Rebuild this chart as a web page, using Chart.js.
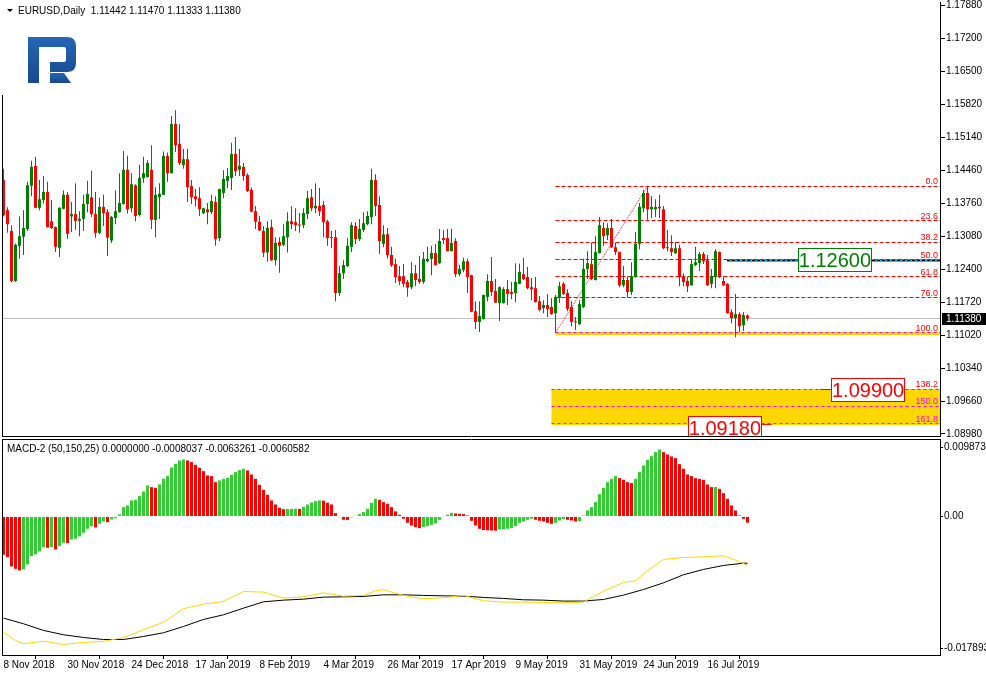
<!DOCTYPE html>
<html>
<head>
<meta charset="utf-8">
<title>EURUSD Daily</title>
<script src="https://cdn.jsdelivr.net/npm/chart.js@4.4.1/dist/chart.umd.min.js"></script>
<style>
  html, body { margin: 0; padding: 0; background: #ffffff; }
  body { position: relative; width: 986px; height: 676px; overflow: hidden; font-family: 'Liberation Sans', Arial, sans-serif; }
  canvas { position: absolute; left: 0; }
  #priceChart { top: 0; z-index: 2; }
  #macdChart { top: 438px; z-index: 1; }
  #logo { position: absolute; left: 0; top: 0; z-index: 3; }
  .caption { position: absolute; z-index: 4; font-size: 10px; line-height: 12px; color: #000; white-space: pre; }
  .arrow { display: inline-block; width: 0; height: 0; border-left: 3px solid transparent; border-right: 3px solid transparent; border-top: 3px solid #000; margin-right: 5px; vertical-align: 2px; }
</style>
</head>
<body>
<svg id="logo" width="90" height="90" viewBox="0 0 90 90">
  <defs>
    <linearGradient id="logoFill" x1="0" y1="0" x2="0" y2="1">
      <stop offset="0" stop-color="#2466b6"/>
      <stop offset="1" stop-color="#17498c"/>
    </linearGradient>
  </defs>
  <path fill="url(#logoFill)" d="M28 37 H67 Q76 37 76 46 V63 Q76 72 67 72 H50 V62 H64 Q66 62 66 60 V49 Q66 47 64 47 H39 V83 H28 Z"/>
  <path fill="url(#logoFill)" d="M50 73 H64 L71 83 H50 Z"/>
</svg>
<div class="caption" style="left:7px; top:5px;"><span class="arrow"></span>EURUSD,Daily  1.11442 1.11470 1.11333 1.11380</div>
<div class="caption" style="left:7px; top:443px;">MACD-2 (50,150,25) 0.0000000 -0.0008037 -0.0063261 -0.0060582</div>
<canvas id="priceChart" width="986" height="446"></canvas>
<canvas id="macdChart" width="986" height="238"></canvas>
<script>
// Daily candles, 8 Nov 2018 .. 30 Jul 2019 (one entry per trading day)
const opens = [
  1.1426, 1.1363, 1.1320, 1.1216, 1.1289, 1.1308, 1.1324, 1.1414, 1.1455, 1.1368,
  1.1384, 1.1401, 1.1340, 1.1328, 1.1285, 1.1366, 1.1395, 1.1350, 1.1355, 1.1341,
  1.1345, 1.1376, 1.1390, 1.1355, 1.1316, 1.1370, 1.1359, 1.1300, 1.1347, 1.1359,
  1.1376, 1.1447, 1.1367, 1.1415, 1.1353, 1.1430, 1.1432, 1.1447, 1.1343, 1.1390,
  1.1395, 1.1476, 1.1440, 1.1542, 1.1501, 1.1457, 1.1469, 1.1413, 1.1392, 1.1388,
  1.1357, 1.1365, 1.1359, 1.1380, 1.1305, 1.1399, 1.1424, 1.1430, 1.1480, 1.1447,
  1.1453, 1.1436, 1.1405, 1.1361, 1.1339, 1.1320, 1.1275, 1.1328, 1.1259, 1.1297,
  1.1291, 1.1307, 1.1340, 1.1338, 1.1332, 1.1332, 1.1355, 1.1390, 1.1367, 1.1372,
  1.1374, 1.1340, 1.1307, 1.1307, 1.1191, 1.1232, 1.1247, 1.1287, 1.1330, 1.1303,
  1.1322, 1.1334, 1.1349, 1.1426, 1.1374, 1.1293, 1.1313, 1.1270, 1.1251, 1.1226,
  1.1226, 1.1214, 1.1203, 1.1232, 1.1220, 1.1214, 1.1257, 1.1262, 1.1274, 1.1253,
  1.1305, 1.1305, 1.1278, 1.1299, 1.1230, 1.1239, 1.1257, 1.1228, 1.1153, 1.1131,
  1.1137, 1.1183, 1.1216, 1.1195, 1.1170, 1.1170, 1.1199, 1.1193, 1.1191, 1.1210,
  1.1230, 1.1224, 1.1203, 1.1201, 1.1174, 1.1160, 1.1166, 1.1162, 1.1149, 1.1181,
  1.1210, 1.1191, 1.1162, 1.1131, 1.1126, 1.1162, 1.1241, 1.1251, 1.1218, 1.1274,
  1.1326, 1.1311, 1.1326, 1.1286, 1.1276, 1.1207, 1.1218, 1.1193, 1.1224, 1.1293,
  1.1367, 1.1399, 1.1365, 1.1365, 1.1370, 1.1365, 1.1284, 1.1284, 1.1274, 1.1284,
  1.1226, 1.1216, 1.1207, 1.1249, 1.1253, 1.1272, 1.1259, 1.1210, 1.1224, 1.1276,
  1.1216, 1.1210, 1.1151, 1.1139, 1.1147, 1.1124, 1.11442
];
const highs = [
  1.1449, 1.1369, 1.1332, 1.1294, 1.1350, 1.1363, 1.1422, 1.1466, 1.1474, 1.1426,
  1.1434, 1.1422, 1.1384, 1.1329, 1.1369, 1.1404, 1.1401, 1.1380, 1.1419, 1.1361,
  1.1395, 1.1424, 1.1445, 1.1401, 1.1389, 1.1395, 1.1365, 1.1351, 1.1404, 1.1440,
  1.1486, 1.1476, 1.1440, 1.1417, 1.1457, 1.1474, 1.1467, 1.1498, 1.1411, 1.1419,
  1.1485, 1.1483, 1.1559, 1.1571, 1.1542, 1.1490, 1.1490, 1.1426, 1.1407, 1.1411,
  1.1368, 1.1378, 1.1395, 1.1392, 1.1408, 1.1446, 1.1451, 1.1503, 1.1515, 1.1490,
  1.1461, 1.1440, 1.1410, 1.1372, 1.1351, 1.1330, 1.1340, 1.1343, 1.1307, 1.1307,
  1.1334, 1.1359, 1.1372, 1.1367, 1.1357, 1.1367, 1.1403, 1.1407, 1.1419, 1.1409,
  1.1382, 1.1343, 1.1320, 1.1322, 1.1247, 1.1259, 1.1305, 1.1338, 1.1338, 1.1345,
  1.1359, 1.1361, 1.1449, 1.1438, 1.1392, 1.1332, 1.1326, 1.1287, 1.1262, 1.1247,
  1.1251, 1.1218, 1.1255, 1.1249, 1.1268, 1.1276, 1.1287, 1.1289, 1.1293, 1.1324,
  1.1322, 1.1324, 1.1324, 1.1305, 1.1249, 1.1264, 1.1262, 1.1229, 1.1174, 1.1174,
  1.1188, 1.1230, 1.1266, 1.1220, 1.1205, 1.1203, 1.1218, 1.1214, 1.1253, 1.1252,
  1.1264, 1.1245, 1.1222, 1.1224, 1.1185, 1.1176, 1.1189, 1.1180, 1.1187, 1.1214,
  1.1214, 1.1199, 1.1174, 1.1141, 1.1176, 1.1262, 1.1278, 1.1295, 1.1309, 1.1349,
  1.1338, 1.1336, 1.1345, 1.1295, 1.1277, 1.1247, 1.1224, 1.1255, 1.1318, 1.1378,
  1.1405, 1.1413, 1.1392, 1.1386, 1.1395, 1.1372, 1.1322, 1.1311, 1.1297, 1.1291,
  1.1232, 1.1224, 1.1262, 1.1287, 1.1276, 1.1276, 1.1270, 1.1241, 1.1282, 1.1277,
  1.1226, 1.1211, 1.1157, 1.1189, 1.1151, 1.1151, 1.11470
];
const lows = [
  1.1350, 1.1316, 1.1214, 1.1214, 1.1262, 1.1270, 1.1320, 1.1392, 1.1367, 1.1363,
  1.1377, 1.1327, 1.1324, 1.1276, 1.1266, 1.1365, 1.1303, 1.1318, 1.1322, 1.1309,
  1.1320, 1.1359, 1.1349, 1.1306, 1.1313, 1.1330, 1.1268, 1.1295, 1.1334, 1.1358,
  1.1375, 1.1356, 1.1359, 1.1340, 1.1350, 1.1420, 1.1431, 1.1324, 1.1307, 1.1345,
  1.1394, 1.1422, 1.1439, 1.1484, 1.1457, 1.1449, 1.1380, 1.1376, 1.1370, 1.1351,
  1.1355, 1.1334, 1.1355, 1.1289, 1.1299, 1.1388, 1.1409, 1.1405, 1.1434, 1.1434,
  1.1424, 1.1401, 1.1359, 1.1324, 1.1320, 1.1266, 1.1256, 1.1258, 1.1248, 1.1233,
  1.1288, 1.1275, 1.1324, 1.1320, 1.1316, 1.1326, 1.1345, 1.1361, 1.1357, 1.1351,
  1.1307, 1.1289, 1.1284, 1.1174, 1.1185, 1.1220, 1.1245, 1.1276, 1.1293, 1.1299,
  1.1318, 1.1332, 1.1334, 1.1351, 1.1272, 1.1286, 1.1262, 1.1245, 1.1212, 1.1207,
  1.1203, 1.1183, 1.1199, 1.1205, 1.1210, 1.1210, 1.1255, 1.1228, 1.1248, 1.1251,
  1.1293, 1.1277, 1.1277, 1.1224, 1.1226, 1.1234, 1.1191, 1.1151, 1.1116, 1.1110,
  1.1136, 1.1174, 1.1185, 1.1170, 1.1133, 1.1169, 1.1166, 1.1178, 1.1172, 1.1209,
  1.1218, 1.1199, 1.1176, 1.1171, 1.1153, 1.1149, 1.1141, 1.1146, 1.1108, 1.1170,
  1.1187, 1.1153, 1.1122, 1.1114, 1.1125, 1.1160, 1.1220, 1.1218, 1.1217, 1.1273,
  1.1289, 1.1301, 1.1284, 1.1270, 1.1203, 1.1203, 1.1181, 1.1187, 1.1223, 1.1282,
  1.1359, 1.1343, 1.1347, 1.1349, 1.1347, 1.1282, 1.1278, 1.1268, 1.1272, 1.1205,
  1.1205, 1.1193, 1.1206, 1.1247, 1.1237, 1.1251, 1.1206, 1.1201, 1.1201, 1.1222,
  1.1206, 1.1148, 1.1128, 1.1099, 1.1110, 1.1112, 1.11333
];
const closes = [
  1.1353, 1.1334, 1.1216, 1.1291, 1.1309, 1.1326, 1.1415, 1.1453, 1.1368, 1.1386,
  1.1401, 1.1328, 1.1326, 1.1287, 1.1368, 1.1395, 1.1314, 1.1355, 1.1341, 1.1345,
  1.1376, 1.1397, 1.1355, 1.1316, 1.1370, 1.1357, 1.1306, 1.1349, 1.1361, 1.1378,
  1.1447, 1.1365, 1.1417, 1.1351, 1.1430, 1.1440, 1.1461, 1.1343, 1.1395, 1.1397,
  1.1476, 1.1440, 1.1542, 1.1498, 1.1461, 1.1469, 1.1411, 1.1390, 1.1386, 1.1365,
  1.1367, 1.1359, 1.1382, 1.1303, 1.1407, 1.1428, 1.1434, 1.1480, 1.1444, 1.1455,
  1.1434, 1.1403, 1.1360, 1.1339, 1.1321, 1.1275, 1.1326, 1.1259, 1.1295, 1.1289,
  1.1309, 1.1340, 1.1334, 1.1332, 1.1331, 1.1357, 1.1388, 1.1367, 1.1372, 1.1361,
  1.1338, 1.1305, 1.1305, 1.1191, 1.1232, 1.1249, 1.1289, 1.1332, 1.1303, 1.1324,
  1.1336, 1.1351, 1.1426, 1.1372, 1.1299, 1.1313, 1.1270, 1.1249, 1.1224, 1.1216,
  1.1210, 1.1202, 1.1232, 1.1218, 1.1214, 1.1262, 1.1262, 1.1274, 1.1249, 1.1299,
  1.1301, 1.1278, 1.1295, 1.1230, 1.1241, 1.1257, 1.1224, 1.1152, 1.1131, 1.1143,
  1.1187, 1.1216, 1.1193, 1.1171, 1.1203, 1.1199, 1.1189, 1.1189, 1.1214, 1.1235,
  1.1220, 1.1201, 1.1199, 1.1172, 1.1156, 1.1166, 1.1158, 1.1147, 1.1183, 1.1205,
  1.1189, 1.1158, 1.1131, 1.1130, 1.1168, 1.1241, 1.1253, 1.1220, 1.1276, 1.1332,
  1.1309, 1.1326, 1.1286, 1.1276, 1.1207, 1.1218, 1.1193, 1.1226, 1.1293, 1.1370,
  1.1399, 1.1365, 1.1370, 1.1370, 1.1367, 1.1284, 1.1286, 1.1276, 1.1284, 1.1224,
  1.1214, 1.1205, 1.1251, 1.1255, 1.1272, 1.1257, 1.1207, 1.1226, 1.1278, 1.1224,
  1.1207, 1.1149, 1.1139, 1.1147, 1.1122, 1.1145, 1.11380
];

// MACD-2 histogram, one value per candle
const macdHist = [
  -0.00495, -0.00525, -0.00646, -0.00676, -0.00697, -0.00684, -0.00620, -0.00512, -0.00491, -0.00452,
  -0.00396, -0.00405, -0.00396, -0.00426, -0.00383, -0.00340, -0.00344, -0.00297, -0.00288, -0.00258,
  -0.00211, -0.00159, -0.00125, -0.00142, -0.00095, -0.00065, -0.00073, -0.00039, -0.00022, 0.00026,
  0.00121, 0.00142, 0.00207, 0.00215, 0.00263, 0.00323, 0.00400, 0.00379, 0.00370, 0.00413,
  0.00487, 0.00521, 0.00633, 0.00680, 0.00723, 0.00736, 0.00723, 0.00702, 0.00667, 0.00629,
  0.00585, 0.00530, 0.00521, 0.00443, 0.00465, 0.00486, 0.00499, 0.00538, 0.00573, 0.00598,
  0.00616, 0.00594, 0.00542, 0.00486, 0.00409, 0.00344, 0.00280, 0.00207, 0.00155, 0.00112,
  0.00094, 0.00096, 0.00098, 0.00100, 0.00097, 0.00125, 0.00155, 0.00181, 0.00198, 0.00207,
  0.00204, 0.00177, 0.00155, 0.00043, -0.00009, -0.00043, -0.00045, -0.00013, 0.00009, 0.00030,
  0.00056, 0.00099, 0.00177, 0.00228, 0.00215, 0.00185, 0.00164, 0.00121, 0.00065, 0.00022,
  -0.00030, -0.00082, -0.00116, -0.00138, -0.00151, -0.00138, -0.00125, -0.00108, -0.00090, -0.00043,
  0.00004, 0.00022, 0.00047, 0.00039, 0.00034, 0.00030, 0.00013, -0.00056, -0.00116, -0.00159,
  -0.00175, -0.00179, -0.00181, -0.00183, -0.00168, -0.00166, -0.00159, -0.00151, -0.00125, -0.00082,
  -0.00065, -0.00043, -0.00030, -0.00043, -0.00056, -0.00065, -0.00082, -0.00095, -0.00082, -0.00052,
  -0.00034, -0.00043, -0.00052, -0.00065, -0.00060, 0.00013, 0.00077, 0.00121, 0.00185, 0.00288,
  0.00370, 0.00443, 0.00486, 0.00521, 0.00495, 0.00474, 0.00443, 0.00431, 0.00486, 0.00573,
  0.00659, 0.00732, 0.00779, 0.00831, 0.00865, 0.00831, 0.00801, 0.00775, 0.00753, 0.00676,
  0.00616, 0.00542, 0.00521, 0.00495, 0.00486, 0.00474, 0.00413, 0.00379, 0.00381, 0.00357,
  0.00301, 0.00228, 0.00142, 0.00077, 0.00013, -0.00030, -0.00080
];

// MACD-2 lines, read at the candles listed in blackBars / yellowBars
const blackBars = [0, 5, 10, 15, 20, 25, 30, 35, 40, 45, 50, 55, 60, 65, 70, 75, 80, 85, 90, 95,
  100, 105, 110, 115, 120, 125, 130, 135, 140, 145, 150, 155, 160, 165, 170, 175, 180, 185, 186];
const blackLine = [
  -0.01313, -0.01386, -0.01472, -0.01528, -0.01563, -0.01589, -0.01589, -0.01550, -0.01502, -0.01421,
  -0.01330, -0.01270, -0.01184, -0.01102, -0.01081, -0.01068, -0.01042, -0.01038, -0.01033, -0.01012,
  -0.01012, -0.01020, -0.01025, -0.01029, -0.01046, -0.01059, -0.01076, -0.01081, -0.01093, -0.01093,
  -0.01072, -0.01016, -0.00943, -0.00857, -0.00753, -0.00684, -0.00633, -0.00603, -0.00606
];
const yellowBars = [0, 3, 5, 10, 15, 20, 25, 30, 35, 40, 45, 50, 55, 60, 65, 70, 75, 80, 85, 90, 93, 95,
  100, 105, 110, 115, 120, 125, 130, 135, 140, 145, 150, 155, 158, 160, 165, 170, 175, 180, 183, 186];
const yellowLine = [
  -0.01494, -0.01601, -0.01644, -0.01610, -0.01653, -0.01627, -0.01614, -0.01563, -0.01464, -0.01365,
  -0.01192, -0.01132, -0.01098, -0.00969, -0.00977, -0.01055, -0.01038, -0.00986, -0.01029, -0.01020,
  -0.00960, -0.00947, -0.01020, -0.01063, -0.01050, -0.01020, -0.01089, -0.01106, -0.01106, -0.01111,
  -0.01115, -0.01106, -0.00964, -0.00852, -0.00831, -0.00740, -0.00555, -0.00530, -0.00521, -0.00508,
  -0.00564, -0.00633
];

// Axis labels
const priceTickLabels = ['1.17880', '1.17200', '1.16500', '1.15820', '1.15140', '1.14460', '1.13760',
  '1.13080', '1.12400', '1.11720', '1.11020', '1.10340', '1.09660', '1.08980'];
const macdTickLabels = ['0.0098736', '0.00', '-0.017893'];
const dateLabels = ['8 Nov 2018', '30 Nov 2018', '24 Dec 2018', '17 Jan 2019', '8 Feb 2019', '4 Mar 2019',
  '26 Mar 2019', '17 Apr 2019', '9 May 2019', '31 May 2019', '24 Jun 2019', '16 Jul 2019'];
const DATE_STEP = 16; // one date label every 16 candles

// Fibonacci grid (from the 23 May low to the 25 Jun high) and price targets
const fibLowBar = 138;
const fibHighBar = 161;
const fibLevels = [0, 23.6, 38.2, 50, 61.8, 76, 100, 138.2, 150, 161.8];
const fibLabels = ['0.0', '23.6', '38.2', '50.0', '61.8', '76.0', '100.0', '138.2', '150.0', '161.8'];
const targetLevels = [1.12600, 1.09900, 1.09180];
const targetLabels = ['1.12600', '1.09900', '1.09180'];

// ---- layout constants (pixels / axis ranges) ----
const X_MIN = -0.375, X_MAX = 234.125;
const PRICE_MIN = 1.089384, PRICE_MAX = 1.179569;
const MACD_MIN = -0.017893, MACD_MAX = 0.0098736;
const UP = '#008000', DOWN = '#ff0000';
const HIST_UP = '#32cd32', HIST_DOWN = '#ff0000';
const FONT = "'Liberation Sans', Arial, sans-serif";

Chart.defaults.font.family = FONT;
Chart.defaults.font.size = 10;
Chart.defaults.color = '#000000';

const barIndex = closes.map((_, i) => i);
const lastBar = closes.length - 1;
const candleColors = barIndex.map(i => closes[i] > opens[i] ? UP : DOWN);
const histColors = macdHist.map((v, i) => i > 0 && v > macdHist[i - 1] ? HIST_UP : HIST_DOWN);

const fibHigh = highs[fibHighBar];
const fibLow = lows[fibLowBar];
const fibValue = lvl => fibHigh - (fibHigh - fibLow) * lvl / 100;

const crisp = p => Math.round(p - 0.5) + 0.5;

function hLine(ctx, x0, x1, yPix, color, dash, width) {
  ctx.save();
  ctx.strokeStyle = color;
  ctx.lineWidth = width || 1;
  ctx.setLineDash(dash || []);
  ctx.beginPath();
  const yy = width && width % 2 === 0 ? Math.round(yPix) : crisp(yPix);
  ctx.moveTo(x0, yy);
  ctx.lineTo(x1, yy);
  ctx.stroke();
  ctx.restore();
}

function drawTag(ctx, text, color, left, midY) {
  const w = 74, h = 24;
  const top = Math.round(midY - h / 2);
  ctx.save();
  ctx.fillStyle = '#ffffff';
  ctx.fillRect(left, top, w, h);
  ctx.strokeStyle = color;
  ctx.lineWidth = 1;
  ctx.strokeRect(Math.round(left) + 0.5, top + 0.5, w - 1, h - 1);
  ctx.fillStyle = color;
  ctx.font = '20px ' + FONT;
  ctx.textAlign = 'center';
  ctx.textBaseline = 'middle';
  ctx.fillText(text, left + w / 2, top + h / 2 + 1);
  ctx.restore();
}

// MT4 style objects: zones, fibo levels, target tags, price marker
const priceOverlay = {
  id: 'priceOverlay',
  beforeDatasetsDraw(chart) {
    const { ctx, chartArea: a, scales: { x, y } } = chart;
    ctx.save();
    ctx.beginPath();
    ctx.rect(a.left, a.top, a.right - a.left, a.bottom - a.top);
    ctx.clip();

    // current bid line
    hLine(ctx, a.left, a.right, y.getPixelForValue(closes[lastBar]), '#c0c0c0');

    // extension target zone 138.2 .. 161.8
    const zoneX = x.getPixelForValue(fibLowBar - 1);
    const zTop = Math.round(y.getPixelForValue(fibValue(138.2)));
    const zBot = Math.round(y.getPixelForValue(fibValue(161.8)));
    ctx.fillStyle = '#ffd700';
    ctx.fillRect(zoneX, zTop, a.right - zoneX, zBot - zTop + 1);

    const fibX = x.getPixelForValue(fibLowBar);
    // 100% band
    const y100 = Math.round(y.getPixelForValue(fibValue(100)));
    ctx.fillRect(fibX, y100 - 1, a.right - fibX, 3);

    // resistance band at 1.12600
    const tY = Math.round(y.getPixelForValue(targetLevels[0]));
    const bandX = x.getPixelForValue(180.875);
    ctx.fillStyle = '#00bfff';
    ctx.fillRect(bandX, tY - 1, a.right - bandX, 3);
    hLine(ctx, bandX, a.right, tY, '#000000', [3, 2]);

    // fibo levels
    fibLevels.forEach(lvl => {
      const yy = y.getPixelForValue(fibValue(lvl));
      if (lvl < 100) hLine(ctx, fibX, a.right, yy, '#ff0000', [4, 2]);
      else if (lvl === 100) hLine(ctx, fibX, a.right, yy, '#ff00ff', [3, 3]);
      else hLine(ctx, zoneX, a.right, yy, '#ff00ff', [3, 3]);
    });
    ctx.restore();
  },
  afterDatasetsDraw(chart) {
    const { ctx, chartArea: a, scales: { x, y } } = chart;
    ctx.save();
    ctx.beginPath();
    ctx.rect(a.left, a.top, a.right - a.left, a.bottom - a.top);
    ctx.clip();

    // fibo level captions
    ctx.font = '9px ' + FONT;
    ctx.textAlign = 'right';
    ctx.textBaseline = 'bottom';
    fibLevels.forEach((lvl, k) => {
      ctx.fillStyle = lvl > 140 ? '#ff00ff' : '#ff0000';
      ctx.fillText(fibLabels[k], a.right - 2, Math.round(y.getPixelForValue(fibValue(lvl))));
    });

    // target tags with their short leader lines
    const y0 = y.getPixelForValue(targetLevels[0]);
    hLine(ctx, x.getPixelForValue(196.1), x.getPixelForValue(198.6), y0, '#008000');
    drawTag(ctx, targetLabels[0], '#008000', x.getPixelForValue(198.6), y0);

    const y1 = y.getPixelForValue(targetLevels[1]);
    hLine(ctx, x.getPixelForValue(204.1), x.getPixelForValue(206.9), y1, '#ff0000');
    drawTag(ctx, targetLabels[1], '#ff0000', x.getPixelForValue(206.9), y1);

    const y2 = y.getPixelForValue(targetLevels[2]);
    hLine(ctx, x.getPixelForValue(189.5), x.getPixelForValue(192), y2, '#ff0000');
    drawTag(ctx, targetLabels[2], '#ff0000', x.getPixelForValue(171.1), y2 + 4);
    ctx.restore();

    // frame: left edge and pane separator
    ctx.save();
    ctx.strokeStyle = '#000000';
    ctx.lineWidth = 1;
    ctx.beginPath();
    ctx.moveTo(2.5, 95);
    ctx.lineTo(2.5, a.bottom + 1);
    ctx.moveTo(2, a.bottom + 0.5);
    ctx.lineTo(a.right + 1, a.bottom + 0.5);
    ctx.stroke();

    // last price marker on the axis
    const py = Math.round(y.getPixelForValue(closes[lastBar]));
    ctx.fillStyle = '#000000';
    ctx.fillRect(a.right + 2, py - 6, 44, 12);
    ctx.fillStyle = '#ffffff';
    ctx.font = '10px ' + FONT;
    ctx.textAlign = 'left';
    ctx.textBaseline = 'middle';
    ctx.fillText(closes[lastBar].toFixed(5), a.right + 6, py);
    ctx.restore();
  }
};

const priceChart = new Chart(document.getElementById('priceChart'), {
  type: 'bar',
  data: {
    datasets: [
      {
        label: 'Wicks',
        data: barIndex.map(i => ({ x: i, y: [lows[i], highs[i]] })),
        backgroundColor: candleColors,
        barThickness: 1,
        grouped: false,
        inflateAmount: 0,
        order: 1
      },
      {
        label: 'Bodies',
        data: barIndex.map(i => ({ x: i, y: [opens[i], closes[i]] })),
        backgroundColor: candleColors,
        barThickness: 3,
        minBarLength: 1,
        grouped: false,
        inflateAmount: 0,
        order: 0
      },
      {
        type: 'line',
        label: 'Fibo trend',
        data: [{ x: fibLowBar, y: fibLow }, { x: fibHighBar, y: fibHigh }],
        borderColor: '#ff0000',
        borderWidth: 1,
        borderDash: [1, 1],
        pointRadius: 0,
        order: 2
      }
    ]
  },
  options: {
    responsive: false,
    animation: false,
    devicePixelRatio: 1,
    events: [],
    layout: { padding: { left: 2, top: 2, right: 0, bottom: 10 } },
    plugins: { legend: { display: false }, tooltip: { enabled: false } },
    scales: {
      x: {
        type: 'linear',
        display: false,
        offset: false,
        min: X_MIN,
        max: X_MAX,
        afterFit: s => { s.paddingLeft = 0; s.paddingRight = 0; }
      },
      y: {
        position: 'right',
        min: PRICE_MIN,
        max: PRICE_MAX,
        afterBuildTicks: s => {
          const n = priceTickLabels.length;
          const hi = parseFloat(priceTickLabels[0]);
          const lo = parseFloat(priceTickLabels[n - 1]);
          s.ticks = priceTickLabels.map((_, k) => ({ value: lo + (hi - lo) * k / (n - 1) }));
        },
        afterFit: s => { s.width = 46; s.paddingTop = 0; s.paddingBottom = 0; },
        grid: { drawOnChartArea: false, tickLength: 5, color: '#000000' },
        border: { display: true, color: '#000000' },
        ticks: {
          autoSkip: false,
          padding: 1,
          font: { size: 10 },
          callback: (v, k) => priceTickLabels[priceTickLabels.length - 1 - k]
        }
      }
    }
  },
  plugins: [priceOverlay]
});

// MACD pane frame
const macdFrame = {
  id: 'macdFrame',
  afterDraw(chart) {
    const { ctx, chartArea: a } = chart;
    ctx.save();
    ctx.strokeStyle = '#000000';
    ctx.lineWidth = 1;
    ctx.beginPath();
    ctx.moveTo(2, a.top - 0.5);
    ctx.lineTo(a.right + 1, a.top - 0.5);
    ctx.moveTo(2.5, a.top - 1);
    ctx.lineTo(2.5, a.bottom + 1);
    ctx.stroke();
    ctx.restore();
  }
};

const macdChart = new Chart(document.getElementById('macdChart'), {
  type: 'bar',
  data: {
    datasets: [
      {
        label: 'Histogram',
        data: macdHist.map((v, i) => ({ x: i, y: v })),
        backgroundColor: histColors,
        barThickness: 3,
        grouped: false,
        inflateAmount: 0,
        order: 2
      },
      {
        type: 'line',
        label: 'Signal',
        data: blackBars.map((b, k) => ({ x: b, y: blackLine[k] })),
        borderColor: '#000000',
        borderWidth: 1,
        pointRadius: 0,
        tension: 0,
        order: 1
      },
      {
        type: 'line',
        label: 'Main',
        data: yellowBars.map((b, k) => ({ x: b, y: yellowLine[k] })),
        borderColor: '#ffd700',
        borderWidth: 1,
        pointRadius: 0,
        tension: 0,
        order: 0
      }
    ]
  },
  options: {
    responsive: false,
    animation: false,
    devicePixelRatio: 1,
    events: [],
    layout: { padding: { left: 2, top: 2, right: 0, bottom: 0 } },
    plugins: { legend: { display: false }, tooltip: { enabled: false } },
    scales: {
      x: {
        type: 'linear',
        offset: false,
        min: X_MIN,
        max: X_MAX,
        afterBuildTicks: s => { s.ticks = dateLabels.map((_, k) => ({ value: k * DATE_STEP })); },
        afterFit: s => { s.height = 21; s.paddingLeft = 0; s.paddingRight = 0; },
        grid: { drawOnChartArea: false, tickLength: 4, color: '#000000' },
        border: { display: true, color: '#000000' },
        ticks: {
          autoSkip: false,
          maxRotation: 0,
          align: 'start',
          padding: 0,
          font: { size: 10 },
          callback: (v, k) => dateLabels[k]
        }
      },
      y: {
        position: 'right',
        min: MACD_MIN,
        max: MACD_MAX,
        afterBuildTicks: s => {
          const perPx = (MACD_MAX - MACD_MIN) / 215;
          s.ticks = [{ value: MACD_MIN + 6.3 * perPx }, { value: 0 }, { value: MACD_MAX - 7 * perPx }];
        },
        afterFit: s => { s.width = 46; s.paddingTop = 0; s.paddingBottom = 0; },
        grid: { drawOnChartArea: false, tickLength: 3, color: '#000000' },
        border: { display: true, color: '#000000' },
        ticks: {
          autoSkip: false,
          padding: 1,
          font: { size: 10 },
          callback: (v, k) => macdTickLabels[macdTickLabels.length - 1 - k]
        }
      }
    }
  },
  plugins: [macdFrame]
});
</script>
</body>
</html>
